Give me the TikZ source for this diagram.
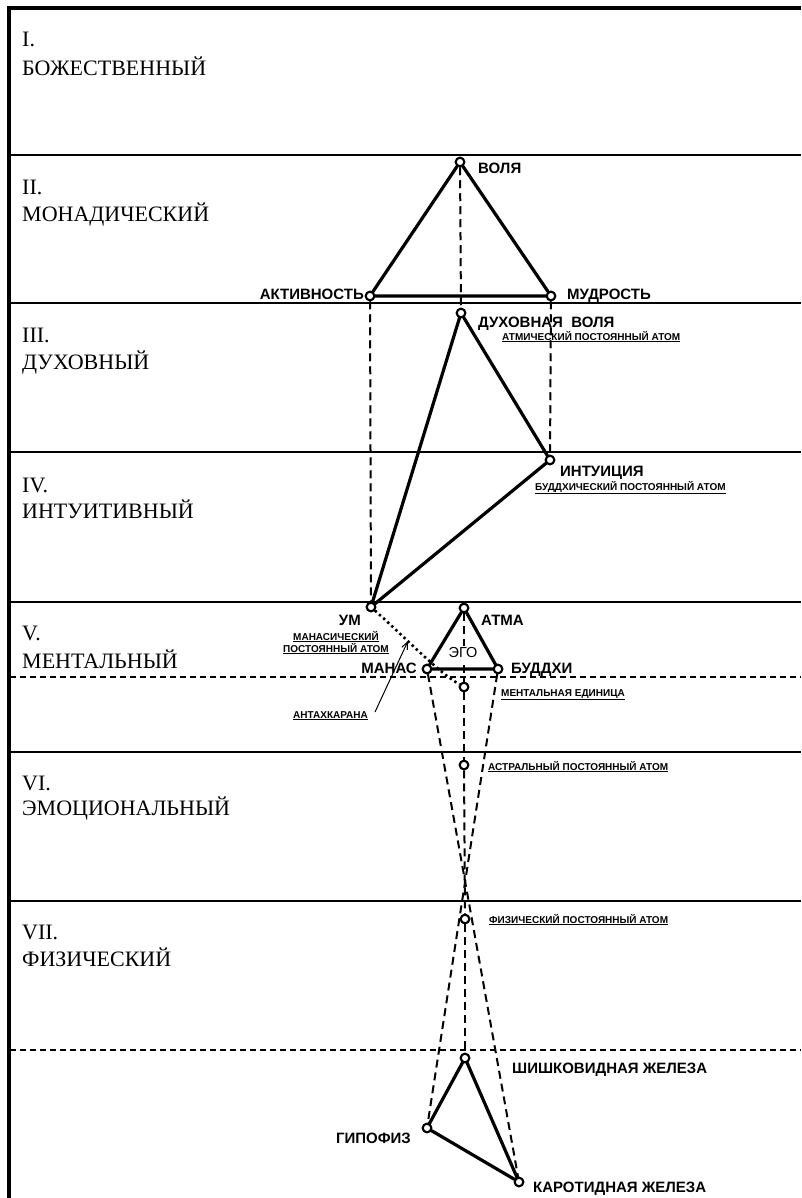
\documentclass[tikz,border=0pt]{standalone}
\usepackage{fontspec}
\setmainfont{Liberation Serif}
\newfontfamily\lsans{Liberation Sans}
\usetikzlibrary{arrows.meta}
\begin{document}
\begin{tikzpicture}[x=1pt,y=-1pt,
  pt/.style={circle,draw,fill=white,line width=2pt,inner sep=0pt,minimum size=8.5pt},
  solidedge/.style={line width=3.2pt,line cap=round},
  dashedge/.style={line width=2pt,dash pattern=on 8pt off 5pt},
  dotedge/.style={line width=2.6pt,dash pattern=on 2.4pt off 3.2pt},
  sepline/.style={line width=2.2pt},
  sepdash/.style={line width=2.2pt,dash pattern=on 6pt off 4pt},
  big/.style={font=\lsans\bfseries\fontsize{15}{17}\selectfont,inner sep=0pt,anchor=base west},
  small/.style={font=\lsans\bfseries\fontsize{10}{13}\selectfont,inner sep=0pt,anchor=base west},
  plane/.style={font=\fontsize{22}{27}\selectfont,inner sep=0pt,anchor=base west,align=left}
]
\useasboundingbox (0,0) rectangle (801,1198);
\fill[white] (0,0) rectangle (801,1198);

% frame and plane separators
\draw[line width=3.5pt] (9,1198) -- (9,8) -- (801,8);
\foreach \yy in {155,303,452,602,752,901}
  \draw[sepline] (9,\yy) -- (801,\yy);
\foreach \yy in {677,1050}
  \draw[sepdash] (10,\yy) -- (801,\yy);

% plane labels
\node[plane] (p1a) at (22,47) {I.};
\node[plane] (p1b) at (22,76) {БОЖЕСТВЕННЫЙ};
\node[plane] (p2a) at (22,195) {II.};
\node[plane] (p2b) at (22,222) {МОНАДИЧЕСКИЙ};
\node[plane] (p3a) at (22,342) {III.};
\node[plane] (p3b) at (22,369) {ДУХОВНЫЙ};
\node[plane] (p4a) at (22,492) {IV.};
\node[plane] (p4b) at (22,518) {ИНТУИТИВНЫЙ};
\node[plane] (p5a) at (22,640) {V.};
\node[plane] (p5b) at (22,668) {МЕНТАЛЬНЫЙ};
\node[plane] (p6a) at (22,790) {VI.};
\node[plane] (p6b) at (22,815) {ЭМОЦИОНАЛЬНЫЙ};
\node[plane] (p7a) at (22,939) {VII.};
\node[plane] (p7b) at (22,966) {ФИЗИЧЕСКИЙ};

% points
\node[pt] (volya) at (460,162) {};
\node[pt] (akt) at (370,296) {};
\node[pt] (mud) at (551,296) {};
\node[pt] (dvolya) at (461,313) {};
\node[pt] (intu) at (550,460) {};
\node[pt] (um) at (371,607) {};
\node[pt] (atma) at (464,608) {};
\node[pt] (manas) at (427,669) {};
\node[pt] (buddhi) at (498,669) {};
\node[pt] (me) at (464,687) {};
\node[pt] (astr) at (464,765) {};
\node[pt] (fiz) at (465,919) {};
\node[pt] (shish) at (465,1058) {};
\node[pt] (gip) at (427,1128) {};
\node[pt] (kar) at (519,1182) {};

% dashed connectors
\draw[dashedge] (volya) -- (dvolya);
\draw[dashedge] (akt) -- (um);
\draw[dashedge] (mud) -- (intu);
\draw[dashedge] (atma) -- (me);
\draw[dashedge] (me) -- (astr);
\draw[dashedge] (astr) -- (fiz);
\draw[dashedge] (fiz) -- (shish);
\draw[dashedge] (manas) -- (kar);
\draw[dashedge] (buddhi) -- (gip);

% dotted antahkarana
\draw[dotedge] (um) .. controls (410,642) and (438,672) .. (me);

% ego label on white patch
\node[font=\lsans\fontsize{14.5}{16}\selectfont,inner sep=1.5pt,fill=white] (lego) at (463,653) {ЭГО};

% solid triangles
\draw[solidedge] (volya) -- (akt) -- (mud) -- (volya);
\draw[solidedge] (dvolya) -- (intu) -- (um) -- (dvolya);
\draw[solidedge] (atma) -- (manas) -- (buddhi) -- (atma);
\draw[solidedge] (shish) -- (gip) -- (kar) -- (shish);

% redraw points on top
\foreach \n in {volya,akt,mud,dvolya,intu,um,atma,manas,buddhi,me,astr,fiz,shish,gip,kar}
  \draw[fill=white,line width=2pt] (\n.center) circle (4.25pt);

% labels
\node[big] (lvolya) at (478,174) {ВОЛЯ};
\node[big,anchor=base east] (lakt) at (364,299) {АКТИВНОСТЬ};
\node[big] (lmud) at (567,299) {МУДРОСТЬ};
\node[big] (ldvolya) at (478,327) {ДУХОВНАЯ\ \ ВОЛЯ};
\node[small] (latm) at (502,340) {\underline{АТМИЧЕСКИЙ ПОСТОЯННЫЙ АТОМ}};
\node[big] (lintu) at (560,476) {ИНТУИЦИЯ};
\node[small] (lbud) at (535,490) {\underline{БУДДХИЧЕСКИЙ ПОСТОЯННЫЙ АТОМ}};
\node[big,anchor=base east] (lum) at (361,625) {УМ};
\node[small,anchor=base,align=center] (lman) at (336,652) {\underline{МАНАСИЧЕСКИЙ}\\[-1pt]\underline{ПОСТОЯННЫЙ АТОМ}};
\node[big] (latma) at (481,625) {АТМА};
\node[big,anchor=base east] (lmanas) at (417,673) {МАНАС};
\node[big] (lbuddhi) at (511,673) {БУДДХИ};
\node[small] (lme) at (501,696) {\underline{МЕНТАЛЬНАЯ ЕДИНИЦА}};
\node[small] (lant) at (293,718) {\underline{АНТАХКАРАНА}};
\node[small] (lastr) at (488,770) {\underline{АСТРАЛЬНЫЙ ПОСТОЯННЫЙ АТОМ}};
\node[small] (lfiz) at (489,923) {\underline{ФИЗИЧЕСКИЙ ПОСТОЯННЫЙ АТОМ}};
\node[big] (lshish) at (512,1073) {ШИШКОВИДНАЯ ЖЕЛЕЗА};
\node[big,anchor=base east] (lgip) at (411,1143) {ГИПОФИЗ};
\node[big] (lkar) at (533,1192) {КАРОТИДНАЯ ЖЕЛЕЗА};

% antahkarana arrow
\coordinate (antstart) at (375,712);
\coordinate (anttip) at (408,641);
\draw[line width=1pt,-{Straight Barb[length=7pt,width=6pt]}] (antstart) -- (anttip);
\end{tikzpicture}
\end{document}
